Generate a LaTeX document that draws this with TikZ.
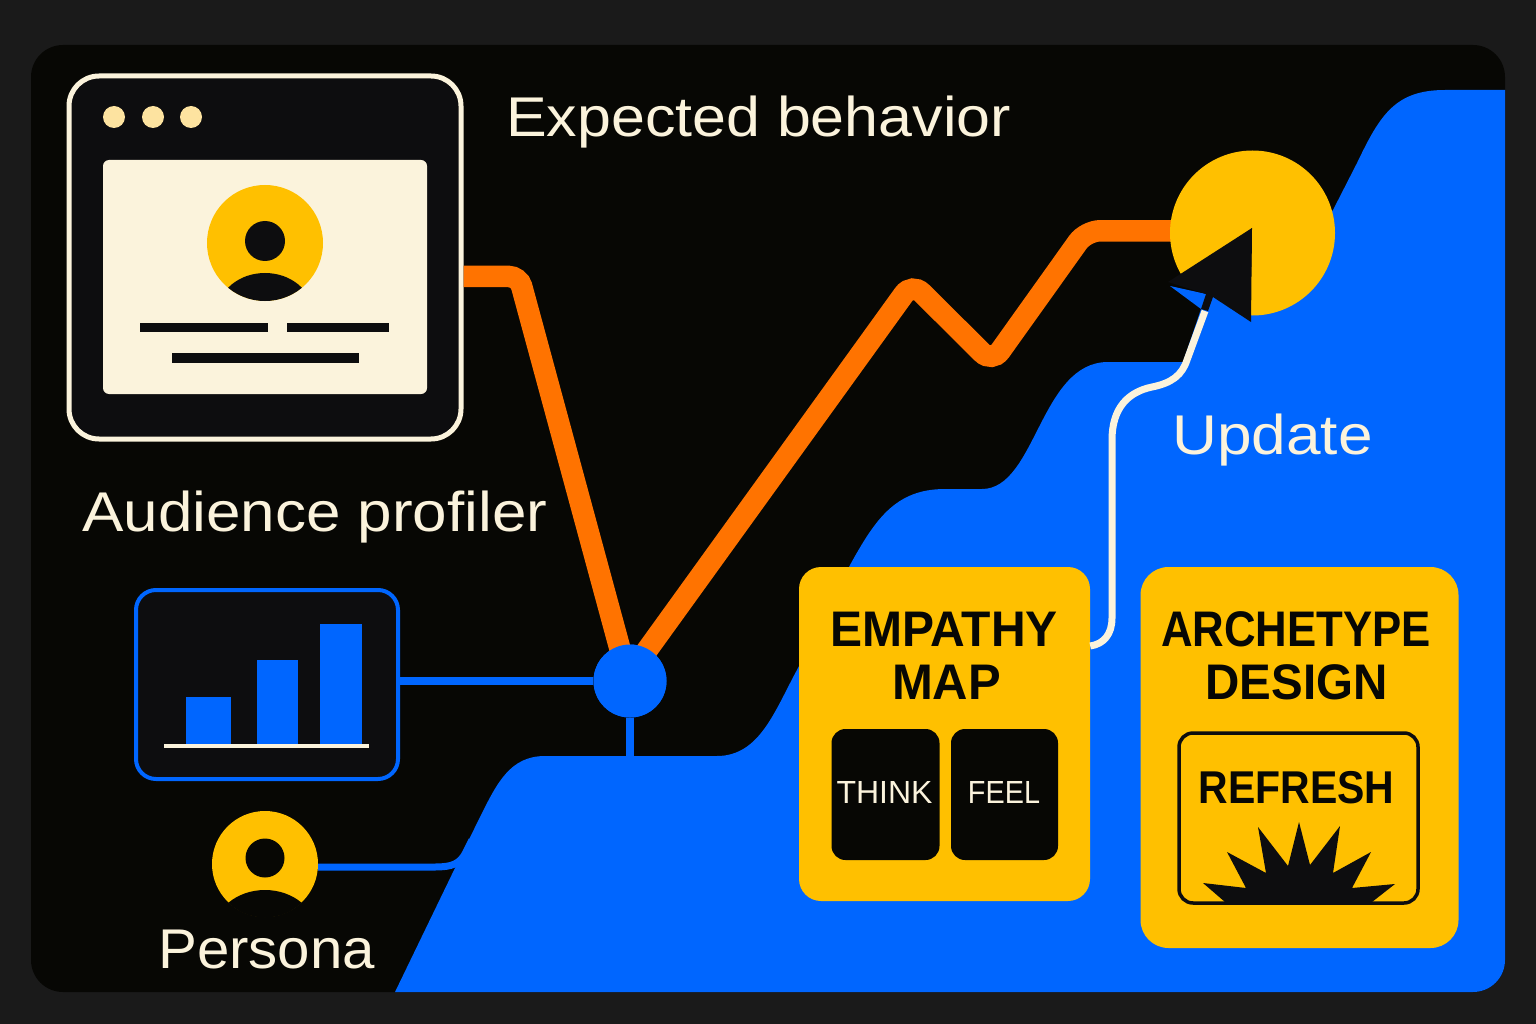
\documentclass[tikz,border=0pt]{standalone}
\usepackage{graphicx}
\usepackage{fontspec}
\setmainfont{Liberation Sans}
\definecolor{bgd}{HTML}{1A1A1A}
\definecolor{panel}{HTML}{070704}
\definecolor{ink}{HTML}{0D0D0F}
\definecolor{blu}{HTML}{0066FF}
\definecolor{org}{HTML}{FF7300}
\definecolor{amb}{HTML}{FFC000}
\definecolor{crm}{HTML}{FBF3DC}
\definecolor{dot}{HTML}{FDE3A0}
\newcommand{\hsq}[2]{\scalebox{#1}[1]{#2}}
\tikzset{
  x=1pt,y=-1pt,
  lbl/.style={font=\fontsize{#1}{#1}\selectfont,text=crm,inner sep=0pt,anchor=base west},
  cardt/.style={font=\fontsize{#1}{#1}\selectfont\bfseries,text=panel,inner sep=0pt,anchor=base},
  thinkt/.style={font=\fontsize{32}{32}\selectfont,text=crm,inner sep=0pt,anchor=base},
  card/.style={fill=amb,rounded corners=#1,inner sep=0pt},
  tile/.style={fill=panel,rounded corners=14pt,inner sep=0pt},
  orangeline/.style={draw=org,line width=21.5pt,rounded corners=14pt},
  blueline/.style={draw=blu,line width=8pt},
  whiteline/.style={draw=crm,line width=7pt},
  bar/.style={fill=blu},
  rule/.style={fill=ink}
}
\begin{document}
\begin{tikzpicture}
\useasboundingbox (0,0) rectangle (1536,1024);
\fill[bgd] (0,0) rectangle (1536,1024);
\fill[panel,rounded corners=32pt] (31,45) rectangle (1505,992);
% blue landscape
\begin{scope}
\clip[rounded corners=32pt] (31,45) rectangle (1505,992);
\fill[blu] (395,992) -- (455,868) -- (480,817)
  .. controls (497,783) and (510,756) .. (545,756)
  -- (717,756)
  .. controls (760,756) and (775,710) .. (798,668)
  -- (850,565)
  .. controls (875,520) and (895,489) .. (945,489)
  -- (982,489)
  .. controls (1036,489) and (1040,362) .. (1108,362)
  -- (1183,362) -- (1201,309) -- (1170,286) -- (1206,294) -- (1260,290)
  -- (1333,210) -- (1357,163)
  .. controls (1380,115) and (1395,90) .. (1445,90)
  -- (1510,90) -- (1510,995) -- (395,995) -- cycle;
\end{scope}
% named anchors
\node[draw=crm,line width=5pt,fill=ink,rounded corners=30pt,minimum width=392pt,minimum height=363pt,inner sep=0pt] (profiler) at (265,257.5) {};
\node[draw=blu,line width=4pt,fill=ink,rounded corners=20pt,minimum width=262pt,minimum height=189pt,inner sep=0pt] (chart) at (267,684.5) {};
\node[circle,fill=blu,minimum size=73pt,inner sep=0pt] (hub) at (630,681) {};
\node[circle,minimum size=165pt,inner sep=0pt] (target) at (1252.5,233) {};
\node[circle,fill=amb,minimum size=106pt,inner sep=0pt] (persona) at (265,864) {};
\node[card=22pt,minimum width=291pt,minimum height=334pt] (empathy) at (944.5,734) {};
\node[card=28pt,minimum width=318pt,minimum height=381pt] (arche) at (1299.5,757.5) {};
\coordinate (landa) at (630,758);
\coordinate (tip) at (1205,311);
% connectors
\draw[orangeline,rounded corners=10pt] (profiler.east |- 0,276.5) -- (519,276.5) -- (623,660);
\draw[orangeline,shorten >=-4pt] (640,660) -- (912,283) -- (992,362.5) -- (1086,230.8) -- (target.west |- 0,230.8);
\draw[blueline] (chart.east |- hub) -- (hub);
\draw[blueline] (hub) -- (landa);
\draw[blu,line width=7pt] (persona.east |- 0,867) -- (435,867) .. controls (452,867) and (460,864) .. (466,852) -- (472,840);
\draw[whiteline] (empathy.east |- 0,646) .. controls (1104,644) and (1112,634) .. (1112,618)
  -- (1112,440) .. controls (1112,408) and (1128,392) .. (1152,387)
  .. controls (1172,383) and (1182,375) .. (1187,360) -- (tip);
% hub redraw on top
\fill[blu] (hub) circle (36.5);
% target: disc with a wedge cut out, then the arrow
\begin{scope}
\clip (1252,228) -- (1250,330) -- (1340,330) -- (1340,140) -- (1160,140) -- (1160,295) -- cycle;
\fill[amb] (target) circle (82.5);
\end{scope}
\fill[ink] (1252,228) -- (1168,282) -- (1206,294) -- (1201,309) -- (1208,311) -- (1213,297) -- (1251,322) -- cycle;
% window
\foreach \px in {114,153,191} \fill[dot] (\px,117) circle (11);
\fill[crm,rounded corners=6pt] (103,160) rectangle (427,394);
\fill[amb] (265,243) circle (58);
\begin{scope}
\clip (265,243) circle (58);
\fill[ink] (265,312) ellipse (47 and 39);
\end{scope}
\fill[ink] (265,241) circle (20);
\fill[rule] (140,323) rectangle (268,332);
\fill[rule] (287,323) rectangle (389,332);
\fill[rule] (172,353) rectangle (359,363);
% chart
\fill[bar] (186,697) rectangle (231,745);
\fill[bar] (257,660) rectangle (298,745);
\fill[bar] (320,624) rectangle (362,745);
\fill[crm] (164,744) rectangle (369,748);
% persona
\begin{scope}
\clip (persona.center) circle (53.5);
\fill[panel] (265,932) ellipse (51 and 42);
\end{scope}
\fill[panel] (265,858) circle (19.5);
% tiles
\node[tile,minimum width=108pt,minimum height=131pt] (think) at (885.5,794.5) {};
\node[tile,minimum width=107pt,minimum height=131pt] (feel) at (1004.5,794.5) {};
\node[draw=ink,line width=3.5pt,rounded corners=14pt,minimum width=239pt,minimum height=170pt,inner sep=0pt] (refresh) at (1298.5,818) {};
\fill[ink] (1203,883) -- (1246,888) -- (1227,852) -- (1266,873) -- (1258,827) -- (1288,866) -- (1299,822) -- (1310,865) -- (1340,826) -- (1333,873) -- (1371,852) -- (1352,888) -- (1395,884) -- (1372,902) -- (1225,902) -- cycle;
% text
\node[lbl=56] (t1) at (506,137) {\hsq{1.088}{Expected behavior}};
\node[lbl=56] (t2) at (82,531) {\hsq{1.107}{Audience profiler}};
\node[lbl=56] (t3) at (1172,454) {\hsq{1.11}{Update}};
\node[lbl=56] (t4) at (158,968) {\hsq{1.04}{Persona}};
\node[cardt=50] (t5) at (944,646) {\hsq{0.96}{EMPATHY}};
\node[cardt=50] (t6) at (946.5,699.5) {\hsq{0.98}{MAP}};
\node[cardt=50] (t7) at (1296,646) {\hsq{0.875}{ARCHETYPE}};
\node[cardt=50] (t8) at (1296.5,699.5) {\hsq{0.95}{DESIGN}};
\node[cardt=46] (t9) at (1296.5,803) {\hsq{0.89}{REFRESH}};
\node[thinkt] (t10) at (884.5,803) {THINK};
\node[thinkt] (t11) at (1004,803) {\hsq{0.9}{FEEL}};
\end{tikzpicture}
\end{document}
